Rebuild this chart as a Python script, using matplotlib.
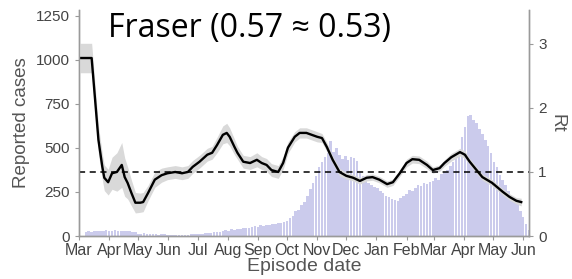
import numpy as np
import pandas as pd
import matplotlib
matplotlib.use("Agg")
import matplotlib.pyplot as plt
import matplotlib.dates as mdates

plt.rcParams['font.family'] = ['Liberation Sans', 'DejaVu Sans']

# daily reported cases in 3-day steps from 2020-03-01
case_start = "2020-03-01"
cases = [0, 0,
         22, 26, 25, 28, 30, 27, 29, 32, 28, 30, 33, 27, 29, 31, 26, 28, 24, 22,
         14, 12, 15, 10, 12, 9, 11, 8, 10, 9,
         7, 6, 8, 5, 7, 6, 8, 7, 9, 10,
         11, 13, 12, 16, 18, 17, 22, 25, 24, 28,
         32, 30, 38, 35, 42, 40, 45, 48, 44, 52,
         55, 50, 60, 58, 65, 62, 70, 66, 72, 75,
         80, 88, 100, 115, 140, 150, 175, 195, 230, 265,
         300, 340, 390, 420, 450, 470, 540, 480, 500, 460,
         440, 455, 430, 450, 445, 425, 360, 340, 320, 300,
         290, 280, 270, 255, 245, 230, 220, 210, 205, 200,
         215, 225, 240, 260, 255, 275, 290, 285, 300, 295,
         305, 310, 330, 320, 350, 365, 375, 400, 420, 460,
         480, 560, 620, 680, 690, 660, 640, 610, 580, 545,
         510, 470, 420, 390, 345, 320, 290, 255, 230, 200,
         180, 140, 110, 70, 35]

# effective reproduction number and its band half-width
rt_dates = ["2020-03-02", "2020-03-14", "2020-03-21", "2020-03-25", "2020-03-27",
            "2020-03-31", "2020-04-04", "2020-04-09", "2020-04-14", "2020-04-17",
            "2020-04-20", "2020-04-24", "2020-04-28", "2020-05-03", "2020-05-06",
            "2020-05-11", "2020-05-18", "2020-05-25", "2020-05-31", "2020-06-08",
            "2020-06-15", "2020-06-21", "2020-06-26", "2020-07-03", "2020-07-11",
            "2020-07-16", "2020-07-21", "2020-07-27", "2020-07-31", "2020-08-03",
            "2020-08-08", "2020-08-11", "2020-08-17", "2020-08-24", "2020-08-31",
            "2020-09-05", "2020-09-10", "2020-09-15", "2020-09-22", "2020-09-27",
            "2020-10-02", "2020-10-09", "2020-10-14", "2020-10-21", "2020-11-01",
            "2020-11-06", "2020-11-11", "2020-11-17", "2020-11-24", "2020-12-01",
            "2020-12-08", "2020-12-15", "2020-12-22", "2020-12-28", "2021-01-04",
            "2021-01-12", "2021-01-18", "2021-01-25", "2021-02-01", "2021-02-07",
            "2021-02-14", "2021-02-22", "2021-02-28", "2021-03-07", "2021-03-12",
            "2021-03-19", "2021-03-28", "2021-04-02", "2021-04-07", "2021-04-14",
            "2021-04-20", "2021-04-30", "2021-05-11", "2021-05-18", "2021-05-25",
            "2021-05-30"]
rt = [2.78, 2.78, 1.50, 1.08, 0.91, 0.84, 0.98, 1.00, 1.11, 0.92,
      0.83, 0.67, 0.52, 0.52, 0.53, 0.67, 0.88, 0.95, 0.98, 1.00,
      0.98, 1.00, 1.08, 1.16, 1.27, 1.30, 1.42, 1.58, 1.61, 1.55,
      1.39, 1.30, 1.16, 1.14, 1.19, 1.14, 1.11, 1.03, 1.00, 1.14,
      1.38, 1.55, 1.61, 1.61, 1.55, 1.53, 1.39, 1.19, 1.00, 0.94,
      0.91, 0.86, 0.91, 0.92, 0.88, 0.81, 0.84, 0.98, 1.14, 1.20,
      1.19, 1.11, 1.03, 1.06, 1.14, 1.23, 1.31, 1.27, 1.16, 1.03,
      0.92, 0.83, 0.69, 0.61, 0.55, 0.53]
rt_hw = [0.23, 0.23, 0.22, 0.2, 0.2, 0.2, 0.25, 0.3, 0.35, 0.3,
         0.25, 0.2, 0.16, 0.15, 0.15, 0.12, 0.12, 0.11, 0.1, 0.1,
         0.1, 0.1, 0.1, 0.1, 0.1, 0.1, 0.12, 0.14, 0.15, 0.14,
         0.12, 0.1, 0.1, 0.1, 0.11, 0.1, 0.1, 0.1, 0.1, 0.1,
         0.09, 0.08, 0.08, 0.08, 0.08, 0.07, 0.07, 0.06, 0.06, 0.05,
         0.05, 0.05, 0.05, 0.05, 0.05, 0.05, 0.05, 0.05, 0.06, 0.06,
         0.06, 0.06, 0.05, 0.05, 0.05, 0.06, 0.06, 0.06, 0.05, 0.05,
         0.05, 0.05, 0.05, 0.05, 0.05, 0.06]

case_dates = pd.date_range(case_start, periods=len(cases), freq="3D") + pd.Timedelta(days=1)
rt_x = pd.to_datetime(rt_dates)
rt = np.array(rt)
rt_hw = np.array(rt_hw)

grey = "#9a9a9a"
fig = plt.figure(figsize=(5.72, 2.79), dpi=100)
ax = fig.add_axes([79 / 572, 1 - 236 / 279, 450 / 572, 226 / 279])
ax2 = ax.twinx()

# cases as thin lavender bars
ax.bar(case_dates, cases, width=2.6, color="#cbcbec", linewidth=0)
ax.set_ylim(0, 1284)
ax.set_yticks([0, 250, 500, 750, 1000, 1250])

ax2.fill_between(rt_x, rt - rt_hw, rt + rt_hw, color="#d9d9d9", linewidth=0)
ax2.plot(rt_x, rt, color="black", lw=1.7)
ax2.axhline(1, color="black", lw=1.1, ls=(0, (4, 3)))
ax2.set_ylim(0, 3.53)
ax2.set_yticks([0, 1, 2, 3])

ax.set_xlim(pd.Timestamp("2020-03-01"), pd.Timestamp("2021-06-07"))
ax.xaxis.set_major_locator(mdates.MonthLocator())
ax.xaxis.set_major_formatter(mdates.DateFormatter("%b"))

for a in (ax, ax2):
    a.spines["top"].set_visible(False)
    for s in ("left", "right", "bottom"):
        a.spines[s].set_color(grey)
        a.spines[s].set_linewidth(1.0)
    a.tick_params(colors=grey, labelcolor="#444444", length=3, width=0.8, labelsize=11)
ax.tick_params(axis="x", labelsize=11.5, pad=2)

ax.set_ylabel("Reported cases", fontsize=13.5, color="#555555", labelpad=4)
ax.set_xlabel("Episode date", fontsize=14, color="#555555", labelpad=0)
ax2.set_ylabel("Rt", fontsize=13.5, color="#555555", rotation=-90, labelpad=14)

fig.text(108 / 572, 1 - 28 / 279, "Fraser (0.57 \u2248 0.53)", fontsize=23,
         family=["Open Sans", "DejaVu Sans"], va="center", ha="left", color="black")

fig.savefig("out.png", dpi=100)
